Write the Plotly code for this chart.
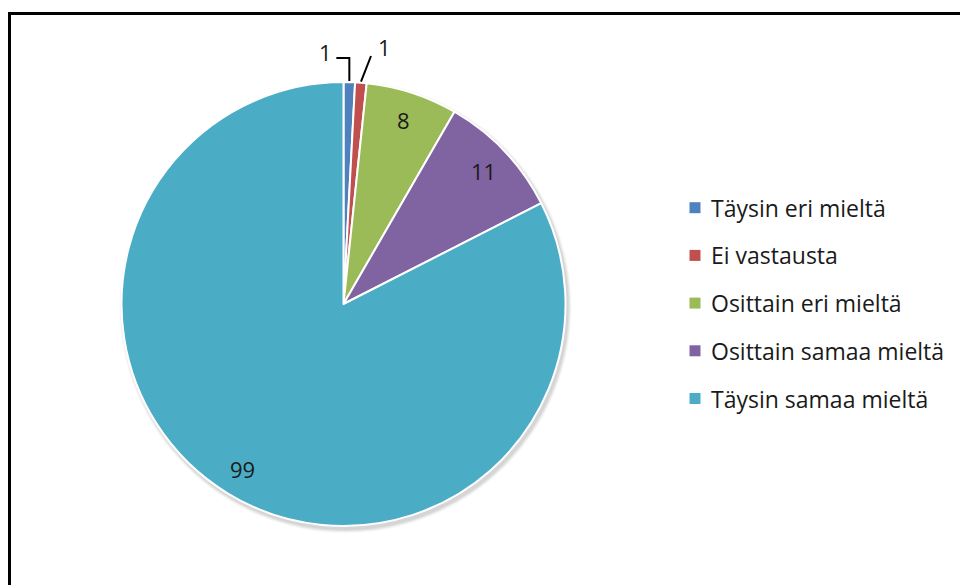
import math
import plotly.graph_objects as go

# Survey answers and their counts
categories = ["Täysin eri mieltä", "Ei vastausta", "Osittain eri mieltä",
              "Osittain samaa mieltä", "Täysin samaa mieltä"]
counts = [1, 1, 8, 11, 99]
colors = ["#4F81BD", "#C0504D", "#9BBB59", "#8064A2", "#4BACC6"]

W, H = 960, 585
CX, CY, R = 343.5, 304.0, 222.0   # pie centre and radius in pixels
FONT = "'Open Sans', Lato, sans-serif"
LABEL_SIZE = 22
LEGEND_SIZE = 23


def px(x):
    return x / W


def py(y):
    return 1 - y / H


fig = go.Figure()
fig.add_trace(go.Pie(
    labels=categories,
    values=counts,
    sort=False,
    direction="clockwise",
    rotation=0,
    marker=dict(colors=colors, line=dict(color="white", width=2)),
    textinfo="none",
    hoverinfo="label+value",
    showlegend=False,
    domain=dict(x=[px(CX - R), px(CX + R)], y=[py(CY + R), py(CY - R)]),
))

total = sum(counts)
annotations = []
shapes = []

# soft drop shadow under the pie
for k, a in enumerate([0.05, 0.05, 0.04, 0.03]):
    rr = R + 1 + k
    ox, oy = 2, 3
    shapes.append(dict(type="circle", xref="paper", yref="paper", layer="below",
                       x0=px(CX + ox - rr), x1=px(CX + ox + rr),
                       y0=py(CY + oy + rr), y1=py(CY + oy - rr),
                       line=dict(width=0), fillcolor=f"rgba(0,0,0,{a})"))

label_font = dict(family=FONT, size=LABEL_SIZE, color="#1a1a1a")

# value labels, placed along each slice's middle angle
cum = 0
for i, v in enumerate(counts):
    mid = (cum + v / 2) / total * 2 * math.pi
    cum += v
    sx, sy = math.sin(mid), -math.cos(mid)
    if v >= 5:
        r_lab = 0.87 * R
        annotations.append(dict(x=px(CX + r_lab * sx), y=py(CY + r_lab * sy),
                                xref="paper", yref="paper", text=str(v),
                                showarrow=False, xanchor="center", yanchor="middle",
                                font=label_font))
    else:
        # edge point of a thin slice with a leader line to an outside label
        ex, ey = CX + (R + 1) * sx, CY + (R + 1) * sy
        if i == 0:
            bx, by = ex, CY - R - 24
            tx, ty = ex - 13, by
            shapes.append(dict(type="path", xref="paper", yref="paper",
                               path=f"M {px(ex)},{py(ey)} L {px(bx)},{py(by)} L {px(tx)},{py(ty)}",
                               line=dict(color="black", width=2)))
            annotations.append(dict(x=px(tx - 2), y=py(ty - 6), xref="paper", yref="paper",
                                    text=str(v), showarrow=False, xanchor="right",
                                    yanchor="middle", font=label_font))
        else:
            tx, ty = ex + 10, CY - R - 26
            shapes.append(dict(type="line", xref="paper", yref="paper",
                               x0=px(ex), y0=py(ey), x1=px(tx), y1=py(ty),
                               line=dict(color="black", width=2)))
            annotations.append(dict(x=px(tx + 5), y=py(ty - 9), xref="paper", yref="paper",
                                    text=str(v), showarrow=False, xanchor="left",
                                    yanchor="middle", font=label_font))

# legend drawn as squares and labels
LX, LY0, LSTEP, SQ = 689.5, 207.7, 47.7, 11
for i, (name, col) in enumerate(zip(categories, colors)):
    yc = LY0 + i * LSTEP
    shapes.append(dict(type="rect", xref="paper", yref="paper",
                       x0=px(LX), x1=px(LX + SQ), y0=py(yc + SQ / 2), y1=py(yc - SQ / 2),
                       fillcolor=col, line=dict(width=0)))
    annotations.append(dict(x=px(709), y=py(yc), xref="paper", yref="paper", text=name,
                            showarrow=False, xanchor="left", yanchor="middle",
                            font=dict(family=FONT, size=LEGEND_SIZE, color="#1a1a1a")))

# chart frame (top and left edges)
shapes.append(dict(type="line", xref="paper", yref="paper",
                   x0=px(8), x1=px(W + 5), y0=py(13.5), y1=py(13.5),
                   line=dict(color="black", width=3)))
shapes.append(dict(type="line", xref="paper", yref="paper",
                   x0=px(9.5), x1=px(9.5), y0=py(12), y1=py(H + 5),
                   line=dict(color="black", width=3)))

fig.update_layout(
    width=W, height=H,
    margin=dict(l=0, r=0, t=0, b=0),
    paper_bgcolor="white",
    plot_bgcolor="white",
    showlegend=False,
    annotations=annotations,
    shapes=shapes,
)

fig.write_html("out.html")
